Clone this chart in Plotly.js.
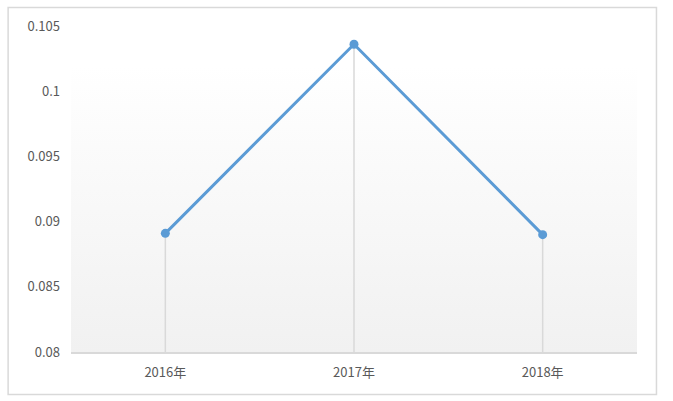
<!DOCTYPE html>
<html>
<head>
<meta charset="utf-8">
<script src="https://cdn.plot.ly/plotly-3.0.1.min.js"></script>
<style>
  html, body { margin: 0; padding: 0; background: #fff; }
  #chart { width: 673px; height: 401px; }
</style>
</head>
<body>
<div id="chart"></div>
<script>
// values
const years = ['2016年', '2017年', '2018年'];
const ratio = [0.0891, 0.1036, 0.0890];
const yMin = 0.08;
const yMax = 0.105;

// soft vertical gradient for the plot area (white -> light grey)
const bgSvg = '<svg xmlns="http://www.w3.org/2000/svg" width="100" height="100" preserveAspectRatio="none">' +
  '<defs><linearGradient id="g" x1="0" y1="0" x2="0" y2="1">' +
  '<stop offset="0" stop-color="#ffffff"/><stop offset="1" stop-color="#f1f1f1"/>' +
  '</linearGradient></defs><rect width="100" height="100" fill="url(#g)"/></svg>';
const bgUri = 'data:image/svg+xml;base64,' + btoa(bgSvg);

// drop lines from each point down to the axis
const dropLines = {
  x: years, y: ratio, type: 'scatter', mode: 'none', hoverinfo: 'skip', showlegend: false,
  error_y: {
    type: 'data', symmetric: false,
    array: ratio.map(() => 0),
    arrayminus: ratio.map(v => v - yMin),
    color: '#d9d9d9', thickness: 1.5, width: 0
  }
};

const line = {
  x: years, y: ratio, type: 'scatter', mode: 'lines+markers', showlegend: false,
  line: { color: '#5b9bd5', width: 3 },
  marker: { color: '#5b9bd5', size: 9 }
};

const layout = {
  width: 673, height: 401,
  margin: { l: 70.5, r: 35.5, t: 26, b: 49 },
  paper_bgcolor: '#ffffff', plot_bgcolor: 'rgba(0,0,0,0)',
  font: { family: '"Noto Sans CJK SC", "Open Sans", sans-serif', size: 13, color: '#595959' },
  xaxis: {
    type: 'category', range: [-0.5, 2.5], showgrid: false, zeroline: false,
    showline: true, linecolor: '#d9d9d9', linewidth: 1.5,
    ticks: '', ticklabelstandoff: 8, fixedrange: true
  },
  yaxis: {
    range: [yMin, yMax], dtick: 0.005, tick0: 0.08, showgrid: false, zeroline: false,
    showline: false, ticks: '', ticklabelstandoff: 10, fixedrange: true
  },
  images: [{
    source: bgUri, xref: 'paper', yref: 'paper', x: 0, y: 0.88, sizex: 1, sizey: 0.88,
    xanchor: 'left', yanchor: 'top', sizing: 'stretch', layer: 'below'
  }],
  shapes: [{
    type: 'rect', xref: 'paper', yref: 'paper',
    x0: -0.1111, x1: 1.0344, y0: -0.1304, y1: 1.0567,
    line: { color: '#d9d9d9', width: 1.5 }, fillcolor: 'rgba(0,0,0,0)', layer: 'below'
  }]
};

Plotly.newPlot('chart', [dropLines, line], layout, { displayModeBar: false, staticPlot: true });
</script>
</body>
</html>
